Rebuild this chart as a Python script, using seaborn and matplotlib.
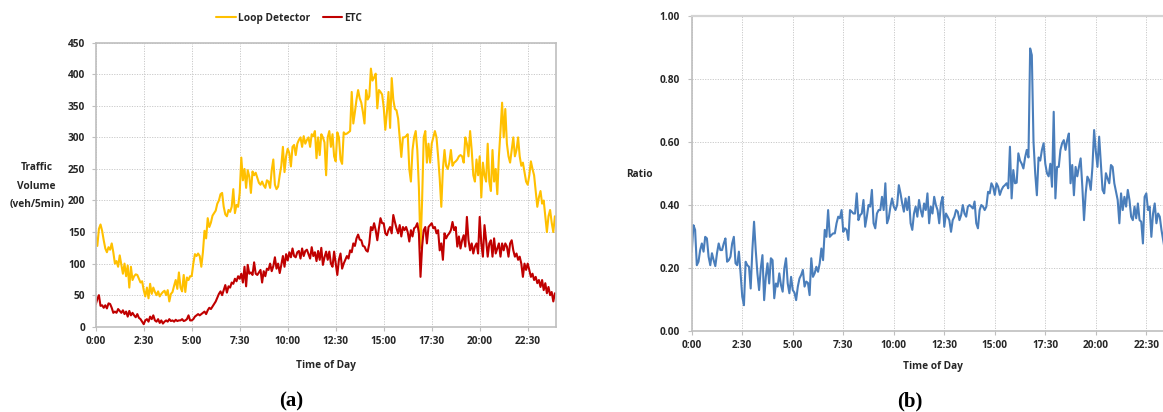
import numpy as np
import pandas as pd
import matplotlib
matplotlib.use("Agg")
import matplotlib.pyplot as plt
import seaborn as sns

# 5-minute traffic volumes (veh/5min), one row per hour of the day
loop_detector = [
    142, 128, 155, 162, 152, 137, 124, 118, 126, 122, 132, 118,
    100, 104, 95, 113, 98, 84, 100, 80, 97, 62, 95, 74,
    80, 83, 82, 76, 70, 72, 58, 48, 62, 45, 68, 52,
    62, 55, 50, 56, 48, 52, 55, 57, 50, 58, 40, 52,
    55, 65, 74, 60, 86, 62, 56, 82, 55, 78, 74, 80,
    80, 100, 115, 112, 116, 112, 95, 118, 152, 140, 172, 158,
    165, 176, 180, 184, 195, 200, 210, 212, 190, 178, 175, 185,
    182, 190, 218, 180, 193, 190, 212, 268, 232, 250, 220, 248,
    238, 212, 246, 240, 244, 236, 228, 225, 230, 224, 220, 232,
    230, 220, 248, 265, 225, 218, 222, 240, 255, 285, 245, 270,
    282, 275, 254, 285, 288, 272, 290, 296, 300, 285, 302, 290,
    296, 300, 285, 305, 302, 310, 267, 300, 272, 305, 300, 292,
    240, 300, 310, 285, 305, 270, 262, 308, 300, 265, 258, 308,
    305, 306, 308, 310, 372, 322, 340, 360, 375, 362, 355, 340,
    322, 375, 360, 365, 409, 390, 395, 401, 346, 375, 372, 368,
    348, 312, 340, 372, 315, 394, 360, 345, 343, 330, 300, 269,
    300, 300, 302, 305, 250, 230, 280, 300, 310, 280, 220, 125,
    200, 300, 310, 260, 290, 260, 290, 300, 310, 300, 270, 235,
    190, 250, 280, 255, 250, 260, 280, 255, 260, 262, 265, 270,
    272, 270, 260, 300, 290, 270, 310, 280, 240, 230, 265, 240,
    270, 205, 260, 240, 230, 290, 230, 215, 280, 230, 250, 210,
    270, 310, 355, 300, 345, 290, 270, 260, 280, 300, 270, 280,
    300, 270, 255, 260, 245, 230, 225, 240, 262, 250, 240, 215,
    190, 205, 215, 195, 200, 175, 150, 175, 185, 165, 150, 175,
]

etc_volume = [
    35, 44, 50, 33, 34, 30, 34, 29, 37, 36, 30, 22,
    24, 22, 28, 25, 22, 26, 20, 24, 16, 25, 18, 22,
    18, 15, 20, 14, 12, 8, 4, 10, 12, 8, 16, 12,
    18, 10, 8, 12, 6, 10, 5, 8, 10, 8, 12, 9,
    10, 8, 11, 9, 10, 10, 12, 9, 10, 12, 18, 10,
    10, 12, 16, 18, 20, 18, 20, 22, 24, 20, 26, 30,
    28, 32, 36, 40, 46, 52, 56, 50, 58, 66, 54, 64,
    62, 70, 68, 76, 72, 80, 76, 84, 70, 95, 64, 98,
    84, 86, 82, 102, 84, 82, 86, 90, 70, 88, 80, 92,
    90, 100, 88, 96, 110, 92, 100, 85, 98, 112, 95, 115,
    105, 118, 110, 124, 112, 110, 118, 120, 108, 124, 112, 120,
    122, 115, 108, 126, 112, 118, 104, 120, 106, 125, 98, 110,
    119, 106, 119, 100, 95, 119, 100, 82, 106, 116, 92, 100,
    106, 112, 108, 121, 118, 132, 128, 140, 146, 138, 137, 128,
    127, 121, 119, 132, 158, 153, 164, 153, 137, 156, 172, 164,
    164, 148, 145, 153, 158, 148, 177, 166, 156, 148, 161, 143,
    158, 153, 158, 150, 135, 153, 143, 156, 158, 164, 148, 79,
    127, 153, 158, 132, 158, 161, 164, 156, 158, 148, 153, 121,
    132, 106, 148, 140, 145, 148, 153, 166, 153, 158, 127, 143,
    124, 137, 145, 127, 174, 137, 121, 132, 116, 127, 132, 116,
    174, 132, 111, 161, 137, 111, 132, 137, 111, 140, 116, 124,
    132, 111, 132, 121, 132, 127, 111, 132, 137, 121, 111, 116,
    106, 111, 100, 79, 100, 90, 100, 90, 79, 84, 74, 79,
    69, 74, 63, 74, 58, 69, 53, 63, 50, 55, 40, 53,
]

# ETC / loop detector ratio, 5-minute steps from 0:00 to 23:25
ratio = [
    0.251, 0.335, 0.320, 0.208, 0.219, 0.256, 0.277, 0.251, 0.298, 0.293, 0.235, 0.208,
    0.246, 0.224, 0.205, 0.246, 0.277, 0.256, 0.256, 0.277, 0.293, 0.219, 0.224, 0.235,
    0.277, 0.298, 0.214, 0.208, 0.251, 0.182, 0.108, 0.081, 0.219, 0.208, 0.203, 0.134,
    0.256, 0.346, 0.256, 0.182, 0.129, 0.198, 0.240, 0.097, 0.171, 0.214, 0.150, 0.230,
    0.224, 0.103, 0.150, 0.140, 0.182, 0.145, 0.124, 0.198, 0.230, 0.150, 0.119, 0.171,
    0.129, 0.121, 0.097, 0.140, 0.166, 0.177, 0.193, 0.140, 0.156, 0.152, 0.113, 0.230,
    0.171, 0.182, 0.203, 0.187, 0.214, 0.261, 0.224, 0.320, 0.298, 0.383, 0.298, 0.304,
    0.309, 0.309, 0.341, 0.362, 0.357, 0.383, 0.314, 0.325, 0.320, 0.288, 0.383, 0.378,
    0.372, 0.372, 0.436, 0.351, 0.367, 0.372, 0.415, 0.330, 0.362, 0.399, 0.394, 0.447,
    0.341, 0.325, 0.372, 0.383, 0.383, 0.425, 0.383, 0.468, 0.341, 0.357, 0.394, 0.420,
    0.394, 0.383, 0.399, 0.462, 0.436, 0.404, 0.378, 0.420, 0.383, 0.425, 0.341, 0.320,
    0.372, 0.394, 0.362, 0.415, 0.383, 0.362, 0.404, 0.383, 0.436, 0.341, 0.394, 0.372,
    0.425, 0.399, 0.383, 0.341, 0.404, 0.425, 0.330, 0.372, 0.362, 0.351, 0.314, 0.351,
    0.362, 0.383, 0.378, 0.351, 0.367, 0.399, 0.372, 0.362, 0.394, 0.399, 0.394, 0.388,
    0.410, 0.341, 0.325, 0.383, 0.399, 0.394, 0.383, 0.394, 0.441, 0.436, 0.468, 0.457,
    0.431, 0.468, 0.457, 0.431, 0.447, 0.457, 0.462, 0.468, 0.452, 0.584, 0.420, 0.510,
    0.468, 0.470, 0.563, 0.540, 0.530, 0.515, 0.550, 0.574, 0.550, 0.896, 0.875, 0.600,
    0.500, 0.430, 0.550, 0.540, 0.574, 0.595, 0.530, 0.500, 0.490, 0.530, 0.457, 0.695,
    0.420, 0.520, 0.520, 0.574, 0.595, 0.605, 0.574, 0.605, 0.626, 0.468, 0.526, 0.430,
    0.520, 0.490, 0.520, 0.547, 0.457, 0.351, 0.436, 0.489, 0.478, 0.447, 0.520, 0.637,
    0.570, 0.520, 0.616, 0.530, 0.447, 0.436, 0.500, 0.483, 0.468, 0.526, 0.520, 0.468,
    0.441, 0.415, 0.341, 0.436, 0.383, 0.425, 0.394, 0.447, 0.415, 0.362, 0.351, 0.394,
    0.357, 0.404, 0.351, 0.346, 0.277, 0.425, 0.436, 0.383, 0.394, 0.298, 0.372, 0.404,
    0.341, 0.372, 0.362, 0.320, 0.288, 0.256,
]

tick_hours = [0, 2.5, 5, 7.5, 10, 12.5, 15, 17.5, 20, 22.5]
tick_labels = ["0:00", "2:30", "5:00", "7:30", "10:00", "12:30", "15:00", "17:30", "20:00", "22:30"]
volume_ticks = [0, 50, 100, 150, 200, 250, 300, 350, 400, 450]
ratio_ticks = [0.0, 0.2, 0.4, 0.6, 0.8, 1.0]

sns.set_theme(style="white")
plt.rcParams["font.family"] = ["Open Sans", "DejaVu Sans"]

TEXT = "#262626"
FRAME = "#bfbfbf"
GRID = "#c9c9c9"
LABEL_SIZE = 7.3

volume = pd.DataFrame({
    "hour": np.arange(len(loop_detector)) / 12,
    "Loop Detector": loop_detector,
    "ETC": etc_volume,
}).melt(id_vars="hour", var_name="Source", value_name="Volume")
ratio_df = pd.DataFrame({"hour": np.arange(len(ratio)) / 12, "Ratio": ratio})

fig = plt.figure(figsize=(11.63, 4.12), dpi=100)
ax1 = fig.add_axes([0.0823, 0.207, 0.3962, 0.6893])
ax2 = fig.add_axes([0.5948, 0.1973, 0.4169, 0.7646])

sns.lineplot(data=volume, x="hour", y="Volume", hue="Source",
             palette={"Loop Detector": "#FFC000", "ETC": "#C00000"},
             linewidth=1.5, ax=ax1)
sns.lineplot(data=ratio_df, x="hour", y="Ratio", color="#4A7EBB",
             linewidth=1.5, ax=ax2)

sns.move_legend(ax1, "center", bbox_to_anchor=(0.42, 1.087), ncol=2,
                frameon=False, title=None, fontsize=LABEL_SIZE, handlelength=1.9,
                handletextpad=0.2, columnspacing=1.3)
for t in ax1.get_legend().get_texts():
    t.set_fontweight("bold")
    t.set_color(TEXT)

def style_axes(ax, yticks, yfmt, ypad):
    ax.set_xlim(0, 24)
    ax.set_xticks(tick_hours)
    ax.set_xticklabels(tick_labels)
    ax.set_yticks(yticks)
    ax.set_yticklabels([yfmt.format(v) for v in yticks])
    ax.set_ylim(yticks[0], yticks[-1])
    ax.set_xlabel("")
    ax.set_ylabel("")
    ax.grid(True, color=GRID, linestyle=(0, (1.2, 1.4)), linewidth=0.7)
    ax.set_axisbelow(True)
    for s in ax.spines.values():
        s.set_color(FRAME)
        s.set_linewidth(1.2)
    ax.tick_params(axis="both", which="both", direction="out", length=3,
                   width=0.8, color=FRAME, labelsize=LABEL_SIZE, labelcolor=TEXT,
                   bottom=True, left=True)
    ax.tick_params(axis="x", pad=3.5)
    ax.tick_params(axis="y", pad=ypad)
    for lab in ax.get_xticklabels() + ax.get_yticklabels():
        lab.set_fontweight("bold")

style_axes(ax1, volume_ticks, "{:d}", 4.5)
style_axes(ax2, ratio_ticks, "{:.2f}", 5.5)
ax2.spines["right"].set_visible(False)
ax2.spines["top"].set_color("#d4d4d4")
ax2.spines["top"].set_linewidth(1.6)

fig.text(0.0315, 0.5485, "Traffic\nVolume\n(veh/5min)", ha="center", va="center",
         fontsize=LABEL_SIZE, fontweight="bold", color=TEXT, linespacing=1.95)
fig.text(0.2802, 0.114, "Time of Day", ha="center", va="center",
         fontsize=LABEL_SIZE, fontweight="bold", color=TEXT)
fig.text(0.5497, 0.577, "Ratio", ha="center", va="center",
         fontsize=LABEL_SIZE, fontweight="bold", color=TEXT)
fig.text(0.8025, 0.110, "Time of Day", ha="center", va="center",
         fontsize=LABEL_SIZE, fontweight="bold", color=TEXT)

fig.text(0.25, 0.025, "(a)", ha="center", va="center", fontsize=15,
         fontweight="bold", family="Liberation Serif", color="black")
fig.text(0.7825, 0.025, "(b)", ha="center", va="center", fontsize=15,
         fontweight="bold", family="Liberation Serif", color="black")

fig.savefig("out.png", dpi=100)
